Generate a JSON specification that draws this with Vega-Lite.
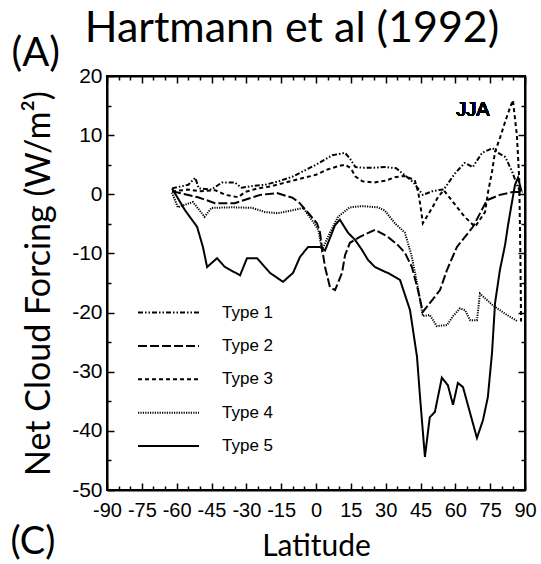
{
  "$schema": "https://vega.github.io/schema/vega-lite/v6.json",
  "width": 418,
  "height": 414,
  "autosize": {"type": "none"},
  "padding": {"left": 107, "top": 76, "right": 16, "bottom": 74},
  "background": "white",
  "config": {
    "view": {"stroke": "black", "strokeWidth": 2},
    "axis": {
      "domainColor": "black", "domainWidth": 2, "tickColor": "black", "tickWidth": 1.5,
      "grid": false, "labelFont": "Liberation Sans", "labelColor": "black",
      "labelOverlap": false, "labelFlush": false, "titleColor": "black", "titleFontWeight": "normal"
    }
  },
  "title": {
    "text": "Hartmann et al (1992)", "font": "Lato", "fontSize": 43, "fontWeight": "normal",
    "color": "black", "anchor": "middle", "frame": "group", "dx": -24, "dy": 52, "offset": 0, "baseline": "alphabetic"
  },
  "data": {"values": [
    {"type":"Type 1","lat":-62,"ncf":1.0},{"type":"Type 1","lat":-55,"ncf":1.6},{"type":"Type 1","lat":-52,"ncf":2.8},{"type":"Type 1","lat":-50.5,"ncf":1.0},{"type":"Type 1","lat":-45,"ncf":0.8},{"type":"Type 1","lat":-40.5,"ncf":2.0},{"type":"Type 1","lat":-35,"ncf":2.0},{"type":"Type 1","lat":-32,"ncf":1.1},{"type":"Type 1","lat":-27.5,"ncf":1.4},{"type":"Type 1","lat":-22,"ncf":1.6},{"type":"Type 1","lat":-16,"ncf":2.2},{"type":"Type 1","lat":-10,"ncf":3.0},{"type":"Type 1","lat":-5,"ncf":4.0},{"type":"Type 1","lat":0,"ncf":5.0},{"type":"Type 1","lat":7,"ncf":6.6},{"type":"Type 1","lat":12.5,"ncf":7.0},{"type":"Type 1","lat":14.5,"ncf":6.1},{"type":"Type 1","lat":17,"ncf":4.6},{"type":"Type 1","lat":20,"ncf":4.5},{"type":"Type 1","lat":25,"ncf":4.5},{"type":"Type 1","lat":30,"ncf":4.6},{"type":"Type 1","lat":34.5,"ncf":4.4},{"type":"Type 1","lat":38,"ncf":3.3},{"type":"Type 1","lat":42,"ncf":2.0},{"type":"Type 1","lat":46,"ncf":-0.1},{"type":"Type 1","lat":50,"ncf":0.5},{"type":"Type 1","lat":52.5,"ncf":0.7},{"type":"Type 1","lat":55,"ncf":0.8},{"type":"Type 1","lat":60,"ncf":3.6},{"type":"Type 1","lat":64,"ncf":5.3},{"type":"Type 1","lat":67.5,"ncf":4.6},{"type":"Type 1","lat":71.5,"ncf":7.0},{"type":"Type 1","lat":76,"ncf":7.8},{"type":"Type 1","lat":78.5,"ncf":7.0},{"type":"Type 1","lat":81.5,"ncf":6.3},{"type":"Type 1","lat":84.5,"ncf":3.8},{"type":"Type 1","lat":86.5,"ncf":1.6},{"type":"Type 1","lat":88,"ncf":0.3},
    {"type":"Type 2","lat":-62,"ncf":0.5},{"type":"Type 2","lat":-56.4,"ncf":0.0},{"type":"Type 2","lat":-50.8,"ncf":-0.5},{"type":"Type 2","lat":-43.5,"ncf":-1.5},{"type":"Type 2","lat":-35,"ncf":-1.5},{"type":"Type 2","lat":-24,"ncf":-0.1},{"type":"Type 2","lat":-16.8,"ncf":0.2},{"type":"Type 2","lat":-10,"ncf":-0.6},{"type":"Type 2","lat":-7,"ncf":-1.5},{"type":"Type 2","lat":-2.6,"ncf":-3.5},{"type":"Type 2","lat":0.4,"ncf":-4.9},{"type":"Type 2","lat":1.7,"ncf":-6.4},{"type":"Type 2","lat":2.6,"ncf":-9.1},{"type":"Type 2","lat":3.9,"ncf":-12.3},{"type":"Type 2","lat":6,"ncf":-15.7},{"type":"Type 2","lat":8.2,"ncf":-16.2},{"type":"Type 2","lat":11.2,"ncf":-13.3},{"type":"Type 2","lat":12.5,"ncf":-10.3},{"type":"Type 2","lat":14.6,"ncf":-8.2},{"type":"Type 2","lat":18.9,"ncf":-7.2},{"type":"Type 2","lat":25.4,"ncf":-6.0},{"type":"Type 2","lat":31,"ncf":-7.2},{"type":"Type 2","lat":35.3,"ncf":-8.6},{"type":"Type 2","lat":38.3,"ncf":-9.9},{"type":"Type 2","lat":41.3,"ncf":-12.3},{"type":"Type 2","lat":43.9,"ncf":-16.2},{"type":"Type 2","lat":46,"ncf":-19.9},{"type":"Type 2","lat":49,"ncf":-18.4},{"type":"Type 2","lat":53.4,"ncf":-16.2},{"type":"Type 2","lat":56.4,"ncf":-12.8},{"type":"Type 2","lat":60.7,"ncf":-8.9},{"type":"Type 2","lat":67.6,"ncf":-5.5},{"type":"Type 2","lat":73.6,"ncf":-1.0},{"type":"Type 2","lat":79.2,"ncf":-0.1},{"type":"Type 2","lat":84.8,"ncf":0.4},{"type":"Type 2","lat":89,"ncf":0.4},
    {"type":"Type 3","lat":-62,"ncf":0.5},{"type":"Type 3","lat":-55,"ncf":0.8},{"type":"Type 3","lat":-50,"ncf":0.5},{"type":"Type 3","lat":-43.5,"ncf":0.7},{"type":"Type 3","lat":-39,"ncf":-0.1},{"type":"Type 3","lat":-33.5,"ncf":-0.5},{"type":"Type 3","lat":-30.5,"ncf":0.4},{"type":"Type 3","lat":-25,"ncf":1.0},{"type":"Type 3","lat":-20,"ncf":1.3},{"type":"Type 3","lat":-15,"ncf":1.8},{"type":"Type 3","lat":-10,"ncf":2.3},{"type":"Type 3","lat":-5,"ncf":2.8},{"type":"Type 3","lat":0,"ncf":3.3},{"type":"Type 3","lat":5,"ncf":4.2},{"type":"Type 3","lat":10,"ncf":4.8},{"type":"Type 3","lat":12.5,"ncf":5.0},{"type":"Type 3","lat":15,"ncf":4.4},{"type":"Type 3","lat":17,"ncf":3.0},{"type":"Type 3","lat":20,"ncf":2.2},{"type":"Type 3","lat":25,"ncf":2.0},{"type":"Type 3","lat":30,"ncf":2.3},{"type":"Type 3","lat":34,"ncf":2.9},{"type":"Type 3","lat":38,"ncf":3.1},{"type":"Type 3","lat":42.5,"ncf":2.4},{"type":"Type 3","lat":44,"ncf":0.4},{"type":"Type 3","lat":45,"ncf":-2.0},{"type":"Type 3","lat":46,"ncf":-4.9},{"type":"Type 3","lat":50,"ncf":-2.3},{"type":"Type 3","lat":52.5,"ncf":-0.5},{"type":"Type 3","lat":55,"ncf":0.7},{"type":"Type 3","lat":60,"ncf":-1.8},{"type":"Type 3","lat":64,"ncf":-3.8},{"type":"Type 3","lat":68.5,"ncf":-5.5},{"type":"Type 3","lat":72.8,"ncf":-3.0},{"type":"Type 3","lat":74.1,"ncf":0.4},{"type":"Type 3","lat":75.8,"ncf":3.8},{"type":"Type 3","lat":77.1,"ncf":7.2},{"type":"Type 3","lat":79.2,"ncf":9.5},{"type":"Type 3","lat":81.4,"ncf":12.2},{"type":"Type 3","lat":83.5,"ncf":14.6},{"type":"Type 3","lat":84.8,"ncf":15.9},{"type":"Type 3","lat":86.5,"ncf":10.0},{"type":"Type 3","lat":87.5,"ncf":2.8},{"type":"Type 3","lat":88,"ncf":-10.0},{"type":"Type 3","lat":88.3,"ncf":-21.5},
    {"type":"Type 4","lat":-62,"ncf":0.3},{"type":"Type 4","lat":-59.5,"ncf":-2.2},{"type":"Type 4","lat":-53,"ncf":-1.3},{"type":"Type 4","lat":-48,"ncf":-3.8},{"type":"Type 4","lat":-45,"ncf":-2.3},{"type":"Type 4","lat":-36,"ncf":-2.2},{"type":"Type 4","lat":-27.5,"ncf":-2.3},{"type":"Type 4","lat":-22,"ncf":-3.0},{"type":"Type 4","lat":-16.5,"ncf":-3.2},{"type":"Type 4","lat":-10,"ncf":-2.7},{"type":"Type 4","lat":-5.5,"ncf":-2.3},{"type":"Type 4","lat":-1.7,"ncf":-4.4},{"type":"Type 4","lat":1,"ncf":-6.0},{"type":"Type 4","lat":2.6,"ncf":-9.4},{"type":"Type 4","lat":6,"ncf":-6.5},{"type":"Type 4","lat":9.5,"ncf":-3.8},{"type":"Type 4","lat":14.5,"ncf":-2.2},{"type":"Type 4","lat":20,"ncf":-2.0},{"type":"Type 4","lat":26.5,"ncf":-2.2},{"type":"Type 4","lat":29.5,"ncf":-2.7},{"type":"Type 4","lat":34,"ncf":-4.9},{"type":"Type 4","lat":38.3,"ncf":-6.5},{"type":"Type 4","lat":41.3,"ncf":-10.6},{"type":"Type 4","lat":44,"ncf":-16.0},{"type":"Type 4","lat":46,"ncf":-20.6},{"type":"Type 4","lat":49,"ncf":-20.4},{"type":"Type 4","lat":52,"ncf":-22.3},{"type":"Type 4","lat":56.5,"ncf":-22.1},{"type":"Type 4","lat":59,"ncf":-20.6},{"type":"Type 4","lat":62,"ncf":-19.3},{"type":"Type 4","lat":64.2,"ncf":-19.6},{"type":"Type 4","lat":66.4,"ncf":-21.3},{"type":"Type 4","lat":69.3,"ncf":-21.3},{"type":"Type 4","lat":70.6,"ncf":-16.8},{"type":"Type 4","lat":76.2,"ncf":-18.8},{"type":"Type 4","lat":82.2,"ncf":-20.4},{"type":"Type 4","lat":86.5,"ncf":-21.4},
    {"type":"Type 5","lat":-62,"ncf":1.0},{"type":"Type 5","lat":-56.4,"ncf":-2.7},{"type":"Type 5","lat":-51.2,"ncf":-5.5},{"type":"Type 5","lat":-48.7,"ncf":-8.9},{"type":"Type 5","lat":-46.9,"ncf":-12.3},{"type":"Type 5","lat":-42.6,"ncf":-10.8},{"type":"Type 5","lat":-39.2,"ncf":-12.3},{"type":"Type 5","lat":-32.7,"ncf":-13.7},{"type":"Type 5","lat":-29.7,"ncf":-10.8},{"type":"Type 5","lat":-25.4,"ncf":-10.8},{"type":"Type 5","lat":-19.8,"ncf":-13.3},{"type":"Type 5","lat":-14.2,"ncf":-14.8},{"type":"Type 5","lat":-9.9,"ncf":-13.3},{"type":"Type 5","lat":-6.9,"ncf":-10.6},{"type":"Type 5","lat":-3.4,"ncf":-8.9},{"type":"Type 5","lat":1.7,"ncf":-8.9},{"type":"Type 5","lat":3.9,"ncf":-9.5},{"type":"Type 5","lat":8.2,"ncf":-5.2},{"type":"Type 5","lat":10.3,"ncf":-4.3},{"type":"Type 5","lat":13.8,"ncf":-6.5},{"type":"Type 5","lat":16.8,"ncf":-7.7},{"type":"Type 5","lat":19.8,"ncf":-9.4},{"type":"Type 5","lat":22.4,"ncf":-11.1},{"type":"Type 5","lat":25.4,"ncf":-12.3},{"type":"Type 5","lat":29.7,"ncf":-13.1},{"type":"Type 5","lat":31,"ncf":-13.3},{"type":"Type 5","lat":36.2,"ncf":-14.5},{"type":"Type 5","lat":40.5,"ncf":-19.6},{"type":"Type 5","lat":43.5,"ncf":-27.5},{"type":"Type 5","lat":44.8,"ncf":-34.3},{"type":"Type 5","lat":46.9,"ncf":-44.4},{"type":"Type 5","lat":49,"ncf":-37.7},{"type":"Type 5","lat":51.2,"ncf":-36.8},{"type":"Type 5","lat":54.2,"ncf":-31.0},{"type":"Type 5","lat":56.8,"ncf":-32.3},{"type":"Type 5","lat":59,"ncf":-35.6},{"type":"Type 5","lat":61.1,"ncf":-31.9},{"type":"Type 5","lat":63.3,"ncf":-32.6},{"type":"Type 5","lat":69.3,"ncf":-41.2},{"type":"Type 5","lat":71.9,"ncf":-38.2},{"type":"Type 5","lat":74,"ncf":-34.3},{"type":"Type 5","lat":75.8,"ncf":-26.8},{"type":"Type 5","lat":77.1,"ncf":-18.4},{"type":"Type 5","lat":79.2,"ncf":-12.8},{"type":"Type 5","lat":81.4,"ncf":-8.6},{"type":"Type 5","lat":82.7,"ncf":-5.2},{"type":"Type 5","lat":84.4,"ncf":-1.3},{"type":"Type 5","lat":85.7,"ncf":1.6},{"type":"Type 5","lat":87,"ncf":2.8},{"type":"Type 5","lat":88.5,"ncf":0.5}
  ]},
  "layer": [
    {
      "mark": {"type": "line", "color": "black", "strokeWidth": 2, "clip": true},
      "encoding": {
        "x": {
          "field": "lat", "type": "quantitative",
          "scale": {"domain": [-90, 90], "nice": false, "zero": false},
          "axis": {
            "orient": "bottom",
            "values": [-90,-85,-80,-75,-70,-65,-60,-55,-50,-45,-40,-35,-30,-25,-20,-15,-10,-5,0,5,10,15,20,25,30,35,40,45,50,55,60,65,70,75,80,85,90],
            "labelExpr": "datum.value % 15 === 0 ? toString(datum.value) : ''",
            "tickSize": {"condition": {"test": "datum.value % 15 === 0", "value": -7}, "value": -4},
            "labelFontSize": 20, "labelPadding": 17,
            "title": "Latitude", "titleFont": "Lato", "titleFontSize": 30,
            "titleY": 65, "titleBaseline": "alphabetic"
          }
        },
        "y": {
          "field": "ncf", "type": "quantitative",
          "scale": {"domain": [-50, 20], "nice": false, "zero": false},
          "axis": {
            "orient": "left",
            "values": [-50,-45,-40,-35,-30,-25,-20,-15,-10,-5,0,5,10,15,20],
            "labelExpr": "datum.value % 10 === 0 ? toString(datum.value) : ''",
            "tickSize": {"condition": {"test": "datum.value % 10 === 0", "value": -7}, "value": -4},
            "labelFontSize": 21, "labelPadding": 12,
            "title": "Net Cloud Forcing (W/m²)", "titleFont": "Lato", "titleFontSize": 34,
            "titleX": -58, "titleY": 207, "titleAngle": -90, "titleAlign": "center", "titleBaseline": "alphabetic"
          }
        },
        "strokeDash": {
          "field": "type", "type": "nominal",
          "scale": {
            "domain": ["Type 1", "Type 2", "Type 3", "Type 4", "Type 5"],
            "range": [[5, 2, 1.5, 2, 1.5, 2], [9, 3], [4, 3], [1.2, 1.2], [1, 0]]
          },
          "legend": {
            "title": null, "orient": "none", "legendX": 50, "legendY": 225,
            "padding": 0, "symbolType": "M -3 0 H 3", "symbolSize": 413,
            "symbolStrokeColor": "black", "symbolStrokeWidth": 2,
            "labelOffset": 42, "rowPadding": 13.4,
            "labelFont": "Liberation Sans", "labelFontSize": 17, "labelColor": "black"
          }
        }
      }
    },
    {
      "mark": {"type": "point", "opacity": 0},
      "encoding": {
        "x": {
          "field": "lat", "type": "quantitative",
          "scale": {"domain": [-90, 90], "nice": false, "zero": false},
          "axis": {
            "orient": "top", "labels": false,
            "values": [-90,-85,-80,-75,-70,-65,-60,-55,-50,-45,-40,-35,-30,-25,-20,-15,-10,-5,0,5,10,15,20,25,30,35,40,45,50,55,60,65,70,75,80,85,90],
            "tickSize": {"condition": {"test": "datum.value % 15 === 0", "value": -7}, "value": -4},
            "title": "(A)", "titleFont": "Lato", "titleFontSize": 40, "titleAngle": 0,
            "titleX": -96, "titleY": -11, "titleAlign": "left", "titleBaseline": "alphabetic"
          }
        },
        "y": {
          "field": "ncf", "type": "quantitative",
          "scale": {"domain": [-50, 20], "nice": false, "zero": false},
          "axis": {
            "orient": "right", "labels": false,
            "values": [-50,-45,-40,-35,-30,-25,-20,-15,-10,-5,0,5,10,15,20],
            "tickSize": {"condition": {"test": "datum.value % 10 === 0", "value": -7}, "value": -4},
            "title": "(C)", "titleFont": "Lato", "titleFontSize": 38, "titleAngle": 0,
            "titleX": -515, "titleY": 477, "titleAlign": "left", "titleBaseline": "alphabetic"
          }
        }
      }
    },
    {
      "mark": {"type": "text", "font": "Liberation Sans", "fontSize": 20, "color": "black", "align": "center", "baseline": "middle"},
      "encoding": {
        "x": {"datum": 67.6, "type": "quantitative", "axis": null},
        "y": {"datum": 14.25, "type": "quantitative", "axis": null},
        "text": {"value": "JJA"}
      }
    }
  ],
  "resolve": {"axis": {"x": "independent", "y": "independent"}}
}
